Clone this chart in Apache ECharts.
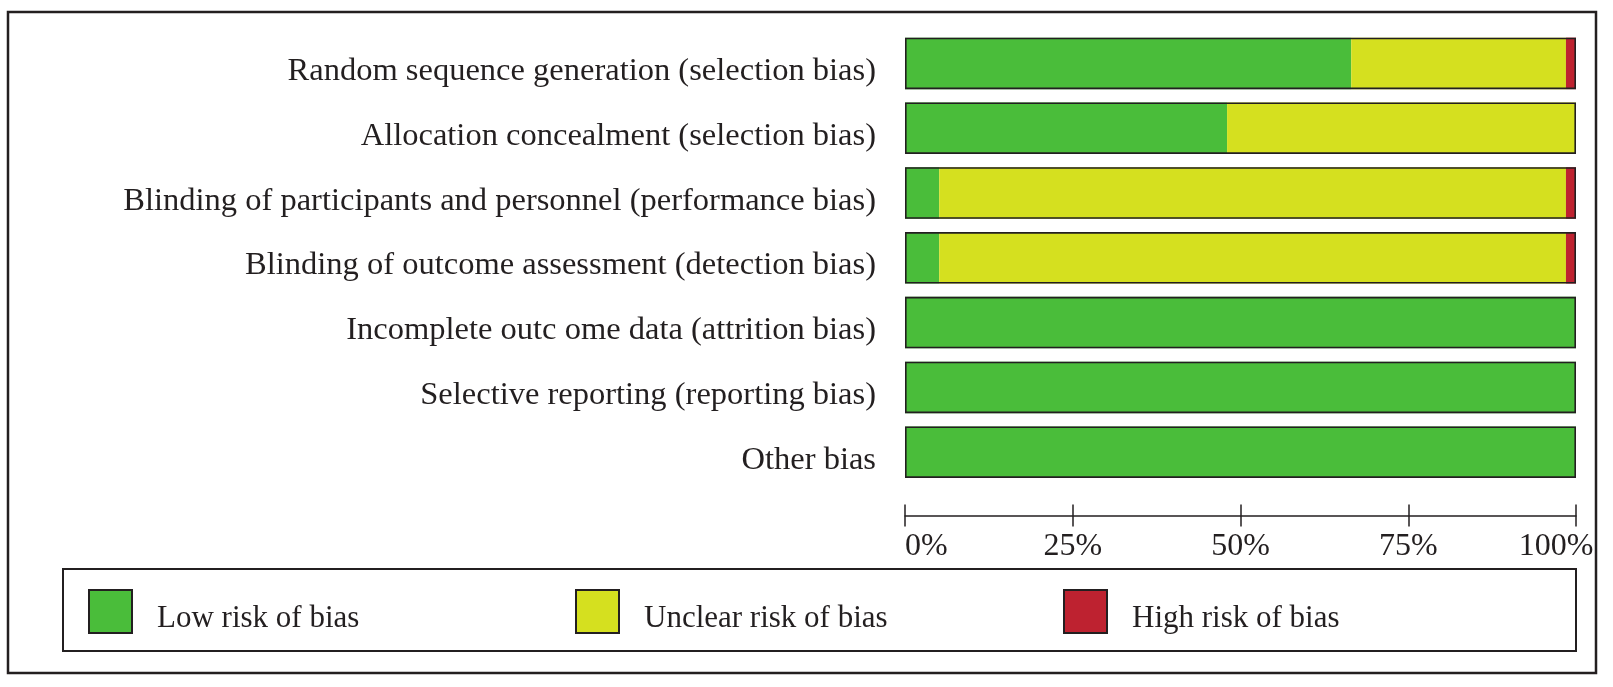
<!DOCTYPE html>
<html>
<head>
<meta charset="utf-8">
<script src="https://cdn.jsdelivr.net/npm/echarts@6/dist/echarts.min.js"></script>
<style>html,body{margin:0;padding:0;background:#fff;}#c{width:1613px;height:687px;}</style>
</head>
<body>
<div id="c"></div>
<script>
var categories = [
  'Random sequence generation (selection bias)',
  'Allocation concealment (selection bias)',
  'Blinding of participants and personnel (performance bias)',
  'Blinding of outcome assessment (detection bias)',
  'Incomplete outc ome data (attrition bias)',
  'Selective reporting (reporting bias)',
  'Other bias'
];
var lowRisk = [66.5, 48, 5.1, 5.1, 100, 100, 100];
var unclearRisk = [32, 52, 93.4, 93.4, 0, 0, 0];
var highRisk = [1.5, 0, 1.5, 1.5, 0, 0, 0];
var xTicks = ['0%', '25%', '50%', '75%', '100%'];
var seriesNames = ['Low risk of bias', 'Unclear risk of bias', 'High risk of bias'];
var colors = ['#4abd3a', '#d5e01f', '#be2230'];
var totals = lowRisk.map(function (v, i) { return v + unclearRisk[i] + highRisk[i]; });

var FONT = '"Liberation Serif", "DejaVu Serif", serif';
var TXT = '#231f20';
var chart = echarts.init(document.getElementById('c'));

function segment(name, data, color) {
  return {
    name: name, type: 'bar', stack: 'all', data: data,
    barCategoryGap: '20.5%',
    itemStyle: { color: color },
    emphasis: { disabled: true },
    silent: true
  };
}

var legendDefs = [88, 575, 1063].map(function (left, i) {
  return {
    left: left, top: 589, padding: 0, data: [seriesNames[i]],
    itemWidth: 43, itemHeight: 43, icon: 'rect',
    selectedMode: false,
    itemStyle: { borderColor: '#231f20', borderWidth: 2 },
    formatter: function (n) { return '{s|}{a|' + n + '}'; },
    textStyle: {
      fontFamily: FONT, fontSize: 31, color: TXT, padding: [0, 0, 0, 20],
      rich: {
        s: { height: 45, width: 0 },
        a: { fontFamily: FONT, fontSize: 31, color: TXT, lineHeight: 40, verticalAlign: 'bottom' }
      }
    }
  };
});

chart.setOption({
  animation: false,
  backgroundColor: '#fff',
  grid: { left: 905, right: 37, top: 31, height: 453.6, containLabel: false },
  legend: legendDefs,
  xAxis: [{
    type: 'value', min: 0, max: 100, interval: 25, position: 'bottom', offset: 31,
    splitLine: { show: false },
    axisLine: { show: true, lineStyle: { color: TXT, width: 1.5 } },
    axisTick: { show: true, length: 11, lineStyle: { color: TXT, width: 1.5 } },
    axisLabel: {
      fontFamily: FONT, fontSize: 32, color: TXT, margin: 15,
      alignMinLabel: 'left', alignMaxLabel: 'center',
      formatter: function (v) {
        var t = xTicks[Math.round(v / 25)];
        return v === 100 ? '{m|' + t + '}' : t;
      },
      rich: { m: { fontFamily: FONT, fontSize: 32, color: TXT, padding: [0, 40, 0, 0] } }
    }
  }, {
    type: 'value', min: 0, max: 100, interval: 25, position: 'bottom', offset: 31,
    splitLine: { show: false },
    axisLine: { show: false },
    axisTick: { show: true, inside: true, length: 11, lineStyle: { color: TXT, width: 1.5 } },
    axisLabel: { show: false }
  }],
  yAxis: {
    type: 'category', data: categories, inverse: true,
    axisLine: { show: false }, axisTick: { show: false },
    axisLabel: {
      fontFamily: FONT, fontSize: 32.5, color: TXT, margin: 29,
      formatter: function (v) { return '{s|}{a|' + v + '}'; },
      rich: {
        s: { height: 49, width: 0 },
        a: { fontFamily: FONT, fontSize: 32.5, color: TXT, lineHeight: 40, verticalAlign: 'bottom' }
      }
    }
  },
  series: [
    segment(seriesNames[0], lowRisk, colors[0]),
    segment(seriesNames[1], unclearRisk, colors[1]),
    segment(seriesNames[2], highRisk, colors[2]),
    {
      name: 'outline', type: 'bar', data: totals, barGap: '-100%', barCategoryGap: '20.5%',
      itemStyle: { color: 'rgba(0,0,0,0)', borderColor: '#231f20', borderWidth: 1.6 },
      silent: true, z: 3
    }
  ],
  graphic: [
    { type: 'rect', shape: { x: 8, y: 12, width: 1588, height: 661 },
      style: { fill: 'none', stroke: '#231f20', lineWidth: 2.5 }, silent: true },
    { type: 'rect', shape: { x: 63, y: 569, width: 1513, height: 82 },
      style: { fill: 'none', stroke: '#231f20', lineWidth: 2 }, silent: true }
  ]
});
</script>
</body>
</html>
